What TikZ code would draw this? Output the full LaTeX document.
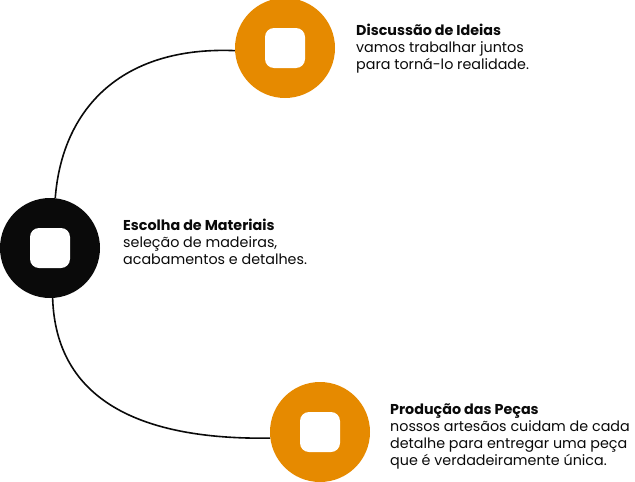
\documentclass[tikz,border=0pt]{standalone}
\usepackage{fontspec}
\setmainfont{Poppins}
\usetikzlibrary{positioning}
\definecolor{amber}{HTML}{E68A00}
\definecolor{ink}{HTML}{0A0A0A}

\begin{document}
\begin{tikzpicture}[
x = 1pt, y = -1pt,
ringnode/.style={circle, fill = #1, draw = none, minimum size = 100pt, inner sep = 0},
innerbox/.style={rectangle, fill = white, rounded corners = 9pt, minimum size = 40pt, inner sep = 0},
infotext/.style={anchor = north west, align = left, inner sep = 0, text = ink,
font = \fontsize{14.3}{17}\selectfont},
linkline/.style={line width = 1.6pt, draw = ink}]

\useasboundingbox (0,0) rectangle (635,482);

\node[ringnode = amber] (ideias) at (285,48) {};
\node[innerbox] (ideiasbox) at (ideias.center) {};
\node[infotext] (ideiastxt) at (356,24) {\textbf{Discussão de Ideias}\\vamos trabalhar juntos\\para torná-lo realidade.};

\node[ringnode = ink] (materiais) at (50,248) {};
\node[innerbox] (materiaisbox) at (materiais.center) {};
\node[infotext] (materiaistxt) at (123,219) {\textbf{Escolha de Materiais}\\seleção de madeiras,\\acabamentos e detalhes.};

\node[ringnode = amber] (pecas) at (320,432) {};
\node[innerbox] (pecasbox) at (pecas.center) {};
\node[infotext] (pecastxt) at (390,404) {\textbf{Produção das Peças}\\nossos artesãos cuidam de cada\\detalhe para entregar uma peça\\que é verdadeiramente única.};

% curved links
\draw[linkline] (ideias.183) .. controls (120,46) and (62,110) .. (materiais.84);
\draw[linkline] (materiais.273) .. controls (56,400) and (140,440) .. (pecas.187);
\end{tikzpicture}
\end{document}
